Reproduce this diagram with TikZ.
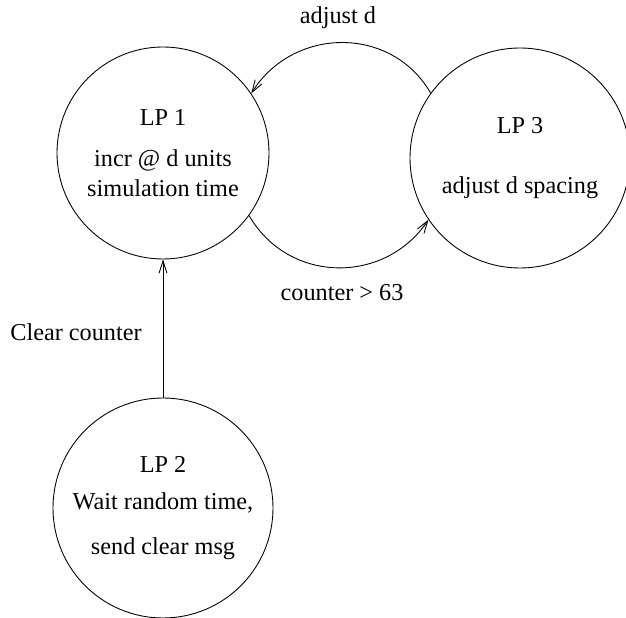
\documentclass[tikz,border=0pt]{standalone}
\usepackage{fontspec}
\setmainfont{Liberation Serif}
\usetikzlibrary{arrows.meta}

\begin{document}
\begin{tikzpicture}[
  lp/.style={draw, circle, line width=0.5pt, inner sep=0pt, align=center},
  msg/.style={-{Straight Barb[length=7pt,width=4.5pt]}, line width=0.5pt},
  lbl/.style={inner sep=0pt},
  font=\fontsize{13.8}{17}\selectfont,
]
\useasboundingbox (0,0) rectangle (12.52,-12.36);

\node[lp, minimum size=4.24cm] (lp1) at (3.26,-3.06) {LP 1\\[6.8pt]incr @ d units\\simulation time};
\node[lp, minimum size=4.40cm] (lp3) at (10.40,-3.16) {LP 3\\[17.6pt]adjust d spacing};
\node[lp, minimum size=4.40cm] (lp2) at (3.26,-10.16) {LP 2\\[4pt]Wait random time,\\[8.5pt]send clear msg};

\node[lbl] (adj) at (6.76,-0.36) {adjust d};
\node[lbl] (cnt) at (6.84,-5.86) {counter > 63};
\node[lbl] (clr) at (1.52,-6.64) {Clear counter};

\draw[msg] (lp3.144) to[out=120, in=58, looseness=1.12] (lp1.34);
\draw[msg] (lp1.-36) to[out=-60, in=-124, looseness=1.12] (lp3.214);
\draw[msg] (lp2.north) -- (lp1.south);
\end{tikzpicture}
\end{document}
